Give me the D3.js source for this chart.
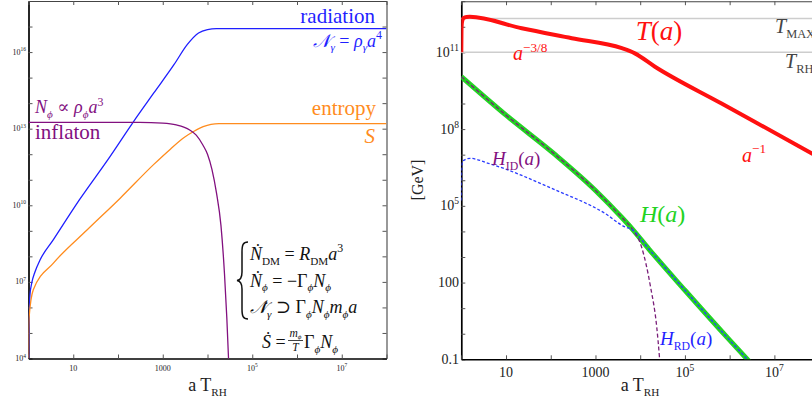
<!DOCTYPE html>
<html><head><meta charset="utf-8">
<script src="https://cdn.jsdelivr.net/npm/d3@7"></script>
<style>
html,body{margin:0;padding:0;background:#fff;}
svg{display:block;font-family:"Liberation Serif","DejaVu Serif",serif;}
</style></head><body>
<svg id="chart" width="812" height="403"></svg>
<script>
// ---------------- DATA ----------------
// Left panel: comoving numbers vs a·T_RH
const radA = [1.02, 1.04, 1.08, 1.18, 1.4, 1.81, 3.6, 13.8, 60, 217, 631, 1780, 3550, 6310, 1.0e4, 1.58e4, 1.0e8];
const radN = [1e4, 6.3e5, 3.2e6, 8.9e6, 2.5e7, 7.2e7, 4.5e8, 1.66e10, 6.3e11, 1.78e13, 2.5e14, 3.2e15, 2.0e16, 5.6e16, 7.6e16, 8.3e16, 8.3e16];
const entA = [1.005, 1.01, 1.03, 1.28, 3.6, 20, 112, 631, 1480, 3000, 5000, 8000, 1.2e4, 1.8e4, 1.0e8];
const entN = [1e4, 1e5, 4e5, 4.9e6, 5.4e7, 1.05e9, 1.9e10, 4.0e11, 1.58e12, 4.5e12, 7.9e12, 1.2e13, 1.48e13, 1.58e13, 1.58e13];
const infA = [1, 300, 1000, 2000, 4000, 5600, 8000, 1.0e4, 1.26e4, 1.58e4, 2.0e4, 2.4e4, 2.7e4, 2.95e4, 3.1e4];
const infN = [1.78e13, 1.78e13, 1.66e13, 1.41e13, 8.9e12, 5.6e12, 2.2e12, 1.0e12, 2.5e11, 3.2e10, 1.6e9, 2.0e7, 4.0e5, 1.0e4, 1.0e3];

// Right panel: temperature and Hubble rate [GeV] vs a·T_RH
const tA = [1.0, 1.01, 1.04, 1.12, 1.3, 1.55, 22.4, 295, 3890, 7590, 2.14e4, 6.6e5, 6.9e7, 1.0e8];
const tV = [1e11, 8e11, 1.6e12, 2.2e12, 2.42e12, 2.45e12, 8.7e11, 3.55e11, 1.45e11, 9.1e10, 2.75e10, 1.0e9, 1.12e7, 7.8e6];
const hA = [1, 10, 126, 1000, 3890, 6460, 1.58e4, 1.0e5, 1.0e6, 3.16e6];
const hV = [1.12e10, 3.5e8, 1.0e7, 4.0e5, 3.5e4, 1.32e4, 2.0e3, 50, 0.56, 0.063];
const hidA = [1, 10, 126, 1000, 3890, 6460, 1.07e4, 1.7e4, 2.34e4, 2.69e4, 2.8e4];
const hidV = [1.12e10, 3.5e8, 1.0e7, 4.0e5, 3.5e4, 1.32e4, 2.5e3, 69, 1.86, 0.126, 0.05];
const hrdA = [1.0, 1.01, 1.07, 1.57, 4.0, 126, 1620, 4570, 6460, 1.58e4, 1.0e5, 1.0e6, 3.16e6];
const hrdV = [1.6e5, 2.0e6, 5.6e6, 7.2e6, 4.6e6, 4.2e5, 5.1e4, 1.5e4, 1.2e4, 2.0e3, 50, 0.56, 0.063];
const tMax = 2.1e12, tRH = 1e11;

// Ticks
const decX = [1, 10, 100, 1e3, 1e4, 1e5, 1e6, 1e7, 1e8];
const decYL = [1e4, 1e5, 1e6, 1e7, 1e8, 1e9, 1e10, 1e11, 1e12, 1e13, 1e14, 1e15, 1e16, 1e17, 1e18];
const decYR = [0.1, 1, 10, 100, 1e3, 1e4, 1e5, 1e6, 1e7, 1e8, 1e9, 1e10, 1e11, 1e12, 1e13];
const labX = [10, 1e3, 1e5, 1e7];
const labXText = ["10", "1000", "10^5", "10^7"];
const labYL = [1e4, 1e7, 1e10, 1e13, 1e16];
const labYLText = ["10^4", "10^7", "10^10", "10^13", "10^16"];
const labYR = [0.1, 100, 1e5, 1e8, 1e11];
const labYRText = ["0.1", "100", "10^5", "10^8", "10^11"];

// ---------------- DRAW ----------------
const svg = d3.select("#chart");
const BLUE = "#1f1fff", ORANGE = "#ff8c1e", PURPLE = "#82107f", RED = "#ff1010", GREEN = "#22d322";

const xL = d3.scaleLog().domain([1, 1e8]).range([28.5, 386.5]);
const yL = d3.scaleLog().domain([1e4, 1e18]).range([358.5, 1]);
const xR = d3.scaleLog().domain([1, 1e8]).range([461.3, 819.1]);
const yR = d3.scaleLog().domain([0.1, 1e13]).range([359.3, 1.2]);

function mathText(parent, x, y, segs, size, color, anchor) {
  const t = parent.append("text").attr("x", x).attr("y", y).attr("fill", color)
    .attr("font-size", size).attr("text-anchor", anchor || "start");
  let cur = 0;
  segs.forEach(([txt, st]) => {
    let off = 0, fs = size;
    if (st.includes("_")) { off = size * 0.25; fs = size * 0.62; }
    if (st.includes("^")) { off = -size * 0.42; fs = size * 0.66; }
    t.append("tspan").attr("dy", off - cur).attr("font-size", fs)
      .attr("font-style", st.includes("i") ? "italic" : "normal").text(txt);
    cur = off;
  });
  return t;
}

function supLabel(parent, x, y, label, size, anchor) {
  const parts = label.split("^");
  const t = parent.append("text").attr("x", x).attr("y", y).attr("font-size", size)
    .attr("text-anchor", anchor).attr("fill", "#222");
  t.append("tspan").text(parts[0]);
  if (parts[1]) t.append("tspan").attr("dy", -size * 0.42).attr("font-size", size * 0.68).text(parts[1]);
}

function frame(xs, ys, yt, id) {
  const [x0, x1] = xs.range(), [y0, y1] = ys.range();
  const g = svg.append("g");
  const mk = (ax, tr) => g.append("g").attr("transform", tr)
    .call(ax.tickSize(-4).tickSizeOuter(0).tickFormat(""));
  const l = mk(d3.axisLeft(ys).tickValues(yt), `translate(${x0},0)`);
  mk(d3.axisRight(ys).tickValues(yt), `translate(${x1},0)`);
  mk(d3.axisTop(xs).tickValues(decX), `translate(0,${y1})`);
  const b = mk(d3.axisBottom(xs).tickValues(decX), `translate(0,${y0})`);
  g.selectAll(".tick line").attr("stroke", "#555").attr("stroke-width", 1);
  g.selectAll(".domain").attr("stroke", "#444").attr("stroke-width", 1.1);
  l.select(".domain").attr("stroke", "#000").attr("stroke-width", 1.7);
  b.select(".domain").attr("stroke", "#000").attr("stroke-width", 1.5);
  svg.append("clipPath").attr("id", id).append("rect")
    .attr("x", x0).attr("y", y1).attr("width", x1 - x0).attr("height", y0 - y1);
}

function curve(xs, ys, A, V, color, w, dash, clip) {
  const pts = A.map((a, i) => [xs(a), ys(V[i])]);
  const p = svg.append("path").attr("d", d3.line().curve(d3.curveMonotoneX)(pts))
    .attr("fill", "none").attr("stroke", color).attr("stroke-width", w)
    .attr("stroke-linejoin", "round").attr("clip-path", `url(#${clip})`);
  if (dash) p.attr("stroke-dasharray", dash);
  return p;
}

// ---- Left panel ----
frame(xL, yL, decYL, "clipL");
curve(xL, yL, radA, radN, BLUE, 1.3, null, "clipL");
curve(xL, yL, entA, entN, ORANGE, 1.3, null, "clipL");
curve(xL, yL, infA, infN, PURPLE, 1.3, null, "clipL");

labX.forEach((v, i) => supLabel(svg, xL(v), 370.5, labXText[i], 8, "middle"));
labYL.forEach((v, i) => supLabel(svg, 26, yL(v) + 2.5, labYLText[i], 8, "end"));

mathText(svg, 375, 23.3, [["radiation", "r"]], 21, BLUE, "end");
mathText(svg, 382, 46.7, [["𝒩", "i"], ["γ", "i_"], [" = ", "r"], ["ρ", "i"], ["γ", "i_"], ["a", "i"], ["4", "r^"]], 18, BLUE, "end");
mathText(svg, 376, 114.5, [["entropy", "r"]], 21, ORANGE, "end");
mathText(svg, 375, 142.7, [["S", "i"]], 21, ORANGE, "end");
mathText(svg, 35, 113.3, [["N", "i"], ["ϕ", "i_"], [" ∝ ", "r"], ["ρ", "i"], ["ϕ", "i_"], ["a", "i"], ["3", "r^"]], 18, PURPLE);
mathText(svg, 35, 139.3, [["inflaton", "r"]], 21, PURPLE);

const EQ = "#111";
svg.append("path").attr("d", "M248,242 C243,242 242,245 242,252 L242,272 C242,277 241,280 237,280.5 C241,281 242,284 242,289 L242,309 C242,316 243,319 248,319")
  .attr("fill", "none").attr("stroke", EQ).attr("stroke-width", 1.5);
mathText(svg, 250, 260, [["Ṅ", "i"], ["DM", "r_"], [" = ", "r"], ["R", "i"], ["DM", "r_"], ["a", "i"], ["3", "r^"]], 18, EQ);
mathText(svg, 250, 286.7, [["Ṅ", "i"], ["ϕ", "i_"], [" = −Γ", "r"], ["ϕ", "i_"], ["N", "i"], ["ϕ", "i_"]], 18, EQ);
mathText(svg, 250, 313.3, [["𝒩̇", "i"], ["γ", "i_"], [" ⊃ Γ", "r"], ["ϕ", "i_"], ["N", "i"], ["ϕ", "i_"], ["m", "i"], ["ϕ", "i_"], ["a", "i"]], 18, EQ);
mathText(svg, 262, 348, [["Ṡ", "i"], [" =", "r"]], 18, EQ);
mathText(svg, 295.5, 336.5, [["m", "i"], ["ϕ", "i_"]], 11.5, EQ, "middle");
svg.append("line").attr("x1", 288).attr("x2", 303).attr("y1", 340.5).attr("y2", 340.5).attr("stroke", EQ).attr("stroke-width", 0.8);
mathText(svg, 295.5, 350.5, [["T", "i"]], 11.5, EQ, "middle");
mathText(svg, 304, 348, [["Γ", "r"], ["ϕ", "i_"], ["N", "i"], ["ϕ", "i_"]], 18, EQ);

mathText(svg, 207.5, 391, [["a T", "r"], ["RH", "r_"]], 18, "#222", "middle");

// ---- Right panel ----
frame(xR, yR, decYR, "clipR");
[tMax, tRH].forEach(v => svg.append("line").attr("x1", xR(1)).attr("x2", xR(1e8))
  .attr("y1", yR(v)).attr("y2", yR(v)).attr("stroke", "#cdcdcd").attr("stroke-width", 1.5));
curve(xR, yR, tA, tV, RED, 4, null, "clipR");
curve(xR, yR, hA, hV, GREEN, 5, null, "clipR");
curve(xR, yR, hidA, hidV, "#7a1f7a", 1.3, "4,2.5", "clipR");
curve(xR, yR, hrdA, hrdV, "#2b3cff", 1.3, "3,2", "clipR");

labX.forEach((v, i) => supLabel(svg, xR(v), 377, labXText[i], 14, "middle"));
labYR.forEach((v, i) => supLabel(svg, 459, yR(v) + 4.5, labYRText[i], 14, "end"));

mathText(svg, 659, 40, [["T", "i"], ["(", "r"], ["a", "i"], [")", "r"]], 27, RED, "middle");
mathText(svg, 513, 60, [["a", "i"], ["−3/8", "r^"]], 20, RED);
mathText(svg, 775, 33.3, [["T", "i"], ["MAX", "r_"]], 20, "#444");
mathText(svg, 785, 68.3, [["T", "i"], ["RH", "r_"]], 20, "#444");
mathText(svg, 742, 161.7, [["a", "i"], ["−1", "r^"]], 20, RED);
mathText(svg, 492, 165, [["H", "i"], ["ID", "r_"], ["(", "r"], ["a", "i"], [")", "r"]], 19, PURPLE);
mathText(svg, 640, 221.7, [["H", "i"], ["(", "r"], ["a", "i"], [")", "r"]], 24, GREEN);
mathText(svg, 660, 345, [["H", "i"], ["RD", "r_"], ["(", "r"], ["a", "i"], [")", "r"]], 19, BLUE);

svg.append("text").attr("transform", "translate(423,180) rotate(-90)").attr("text-anchor", "middle")
  .attr("font-size", 16).attr("fill", "#222").text("[GeV]");
mathText(svg, 640, 391, [["a T", "r"], ["RH", "r_"]], 18, "#222", "middle");
</script>
</body></html>
